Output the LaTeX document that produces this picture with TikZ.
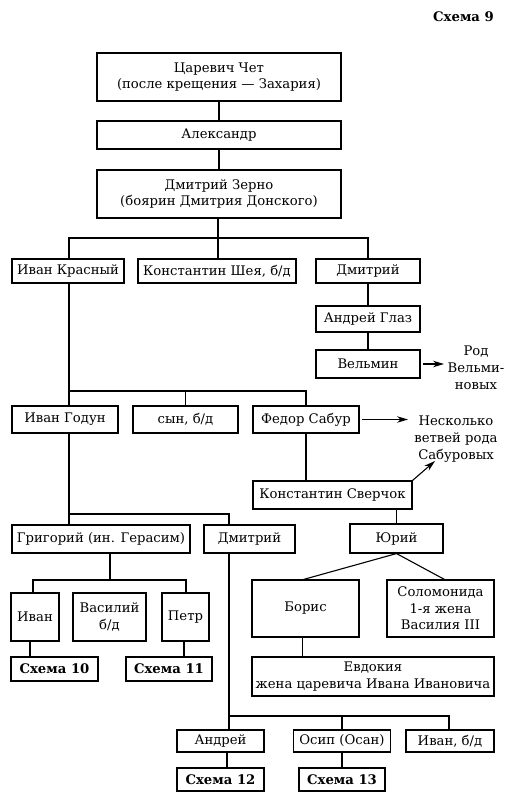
\documentclass[tikz,border=0pt]{standalone}
\usepackage{fontspec}
\setmainfont{DejaVu Serif}
\usetikzlibrary{arrows.meta}

\begin{document}
\begin{tikzpicture}[x=1pt, y=-1pt,
      box/.style 2 args = {draw, line width=1.1pt, align=center,
        inner sep=1pt, minimum width=#1pt, minimum height=#2pt,
        font=\fontsize{13.2}{16.5}\selectfont},
      refbox/.style 2 args = {box={#1}{#2}, font=\fontsize{13.2}{16}\selectfont\bfseries},
      note/.style = {align=center, inner sep=0pt,
        font=\fontsize{13.2}{16.8}\selectfont},
      link/.style = {line width=1.1pt},
      ptr/.style = {line width=1.1pt, -{Stealth[length=11pt,width=6.5pt]}}]
  \useasboundingbox (0,0) rectangle (509,800);

  \node[note, anchor=east, font=\fontsize{13.2}{15}\selectfont\bfseries] (title) at (494,17) {Схема 9};

  \node[box={244}{48}] (chet) at (219,77) {Царевич Чет\\(после крещения — Захария)};
  \node[box={244}{28}] (alex) at (219,135) {Александр};
  \node[box={244}{48}] (zerno) at (219,194) {Дмитрий Зерно\\(боярин Дмитрия Донского)};

  \node[box={112}{24}] (ivkr) at (68,271) {Иван Красный};
  \node[box={158}{24}] (shey) at (217,271) {Константин Шея, б/д};
  \node[box={104}{24}] (dmitr) at (368,271) {Дмитрий};
  \node[box={104}{26}] (glaz) at (368,319) {Андрей Глаз};
  \node[box={104}{28}] (velm) at (368,364) {Вельмин};
  \node[note] (rod) at (476,368) {Род\\Вельми-\\новых};

  \node[box={106}{27}] (godun) at (65,419.5) {Иван Годун};
  \node[box={105}{27}] (syn) at (185.5,419.5) {сын, б/д};
  \node[box={106}{27}] (sabur) at (306,419.5) {Федор Сабур};
  \node[note] (sabrod) at (456,439) {Несколько\\ветвей рода\\Сабуровых};

  \node[box={159}{28}] (sverch) at (332.5,495) {Константин Сверчок};
  \node[box={93}{29}] (yuri) at (396.5,538.5) {Юрий};
  \node[box={107}{57}] (boris) at (305.5,608.5) {Борис};
  \node[box={107}{57}] (solom) at (440.5,608.5) {Соломонида\\1-я жена\\Василия III};
  \node[box={242}{39}] (evdok) at (373,676.5) {Евдокия\\жена царевича Ивана Ивановича};

  \node[box={178}{28}] (grig) at (101,539) {Григорий (ин. Герасим)};
  \node[box={91}{28}] (dmitrb) at (249.5,539) {Дмитрий};
  \node[box={48}{48}] (ivan) at (35,617) {Иван};
  \node[box={73}{48}] (vasil) at (109.5,617) {Василий\\б/д};
  \node[box={47}{48}] (petr) at (185.5,617) {Петр};
  \node[refbox={87}{24}] (sch10) at (54.5,669) {Схема 10};
  \node[refbox={86}{24}] (sch11) at (169,669) {Схема 11};

  \node[box={87}{22}] (andr) at (220.5,741) {Андрей};
  \node[box={97}{22}] (osip) at (342,741) {Осип (Осан)};
  \node[box={88}{22}] (ivanb) at (450,741) {Иван, б/д};
  \node[refbox={87}{23}] (sch12) at (220.5,779.5) {Схема 12};
  \node[refbox={86}{23}] (sch13) at (342,779.5) {Схема 13};

  \coordinate (busa) at (218,238);
  \coordinate (busb) at (69,391);
  \coordinate (busc) at (69,514);
  \coordinate (busd) at (110,580);
  \coordinate (buse) at (229,716);
  \coordinate (rodin) at (444,364);
  \coordinate (sabout) at (408,419.5);
  \coordinate (sabin) at (435,461);

  \draw[link] (chet) -- (alex);
  \draw[link] (alex) -- (zerno);
  \draw[link] (busa |- zerno.south) -- (busa);
  \draw[link] (ivkr.north -| busb) |- (dmitr.north |- busa) -- (dmitr.north);
  \draw[link] (busa) -- (busa |- shey.north);
  \draw[link] (dmitr) -- (glaz);
  \draw[link] (glaz) -- (velm);
  \draw[ptr] ([xshift=2pt]velm.east) -- (rodin);

  \draw[link] (ivkr.south -| busb) -- (busb |- godun.north);
  \draw[link] (busb) -| (sabur.north);
  \draw[link] (syn.north) -- (syn.north |- busb);
  \draw[ptr] ([xshift=2pt]sabur.east) -- (sabout);
  \draw[link] (sabur.south) -- (sabur.south |- sverch.north);
  \draw[ptr] (sverch.north east) -- (sabin);
  \draw[link] (yuri.north |- sverch.south) -- (yuri.north);
  \draw[link] (yuri.south) -- ([xshift=-2pt]boris.north);
  \draw[link] (yuri.south) -- ([xshift=4pt]solom.north);
  \draw[link] ([xshift=-3pt]boris.south) -- ([xshift=-3pt]boris.south |- evdok.north);

  \draw[link] (godun.south -| busc) -- (busc |- grig.north);
  \draw[link] (busc) -| (buse |- dmitrb.north);
  \draw[link] (busd |- grig.south) -- (busd);
  \draw[link] (33,593) |- (186,580) -- (186,593);
  \draw[link] (30,641) -- (30,657);
  \draw[link] (184,641) -- (184,657);

  \draw[link] (buse |- dmitrb.south) -- (buse |- andr.north);
  \draw[link] (buse) -| (449,730);
  \draw[link] (osip.north |- buse) -- (osip.north);
  \draw[link] (227,752) -- (227,768);
  \draw[link] (osip.south) -- (sch13.north);
\end{tikzpicture}
\end{document}
